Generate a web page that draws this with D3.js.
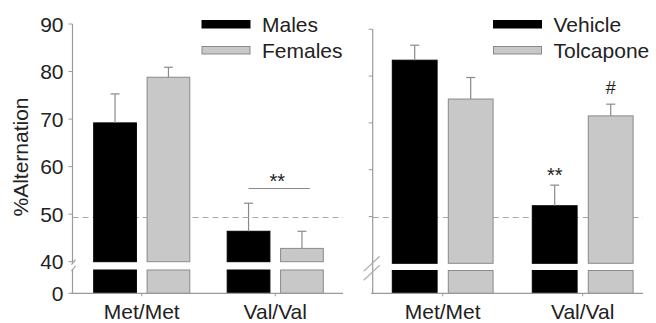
<!DOCTYPE html>
<html lang="en">
<head>
<meta charset="UTF-8">
<title>%Alternation</title>
<script src="https://cdn.jsdelivr.net/npm/d3@7"></script>
<style>
  body { margin: 0; background: #fff; }
  text { font-family: "Liberation Sans", Arial, sans-serif; fill: #222; }
</style>
</head>
<body>
<svg id="chart" width="656" height="323"></svg>
<script>
// genotypes on the x axis
const genotypes = ["Met/Met", "Val/Val"];

// left panel: sex
const sexGroups = ["Males", "Females"];
const sexMeans = [[69.2, 78.8], [46.4, 42.8]];   // [genotype][group]
const sexErrors = [[6.1, 2.1], [5.9, 3.6]];

// right panel: treatment
const drugGroups = ["Vehicle", "Tolcapone"];
const drugMeans = [[83.4, 75.1], [52.3, 71.5]];
const drugErrors = [[3.2, 4.6], [4.4, 2.5]];

const yTicks = [0, 40, 50, 60, 70, 80, 90];
const breakLow = 5, breakHigh = 40;

const svg = d3.select("#chart");
const grey = "#9a9a9a";
const fills = ["#000000", "#c8c8c8"];
const strokes = ["#000000", "#8a8a8a"];

const drawPanel = (opts) => {
    const { axisX, xRange, yRange, means, errors, groups, labels, legendX, tickLabels, xEnd } = opts;
    const g = svg.append("g");

    // y: polylinear with a break between breakLow and breakHigh
    const y = d3.scaleLinear()
        .domain([0, breakLow, breakHigh, 90])
        .range(yRange);
    const x0 = d3.scaleBand().domain(genotypes).range(xRange)
        .paddingInner(0.2).paddingOuter(0.1);
    const x1 = d3.scaleBand().domain(groups).range([0, x0.bandwidth()])
        .paddingInner(0.2).paddingOuter(0.1);

    // dashed chance line
    g.append("line")
        .attr("x1", axisX).attr("x2", xEnd)
        .attr("y1", opts.yChance).attr("y2", opts.yChance)
        .attr("stroke", "#a8a8a8").attr("stroke-width", 1)
        .attr("stroke-dasharray", "6,4");

    // bars
    genotypes.forEach((gt, i) => {
        groups.forEach((grp, j) => {
            const bx = x0(gt) + x1(grp);
            const w = x1.bandwidth();
            const v = means[i][j];
            // upper piece
            g.append("rect")
                .attr("x", bx).attr("width", w)
                .attr("y", y(v)).attr("height", y(breakHigh) - y(v))
                .attr("fill", fills[j]).attr("stroke", strokes[j]).attr("stroke-width", 1);
            // lower piece
            g.append("rect")
                .attr("x", bx).attr("width", w)
                .attr("y", y(breakLow)).attr("height", y(0) - y(breakLow))
                .attr("fill", fills[j]).attr("stroke", strokes[j]).attr("stroke-width", 1);
            // error bar
            const cx = bx + w / 2;
            const top = y(v + errors[i][j]);
            g.append("line")
                .attr("x1", cx).attr("x2", cx).attr("y1", y(v)).attr("y2", top)
                .attr("stroke", "#8a8a8a").attr("stroke-width", 1.2);
            g.append("line")
                .attr("x1", cx - 4.5).attr("x2", cx + 4.5).attr("y1", top).attr("y2", top)
                .attr("stroke", "#8a8a8a").attr("stroke-width", 1.2);
        });
    });

    // x axis
    g.append("line")
        .attr("x1", axisX - 1.5).attr("x2", xEnd)
        .attr("y1", y(0)).attr("y2", y(0))
        .attr("stroke", grey).attr("stroke-width", 1.2);
    genotypes.forEach(gt => {
        const cx = x0(gt) + x0.bandwidth() / 2;
        g.append("line")
            .attr("x1", cx).attr("x2", cx).attr("y1", y(0)).attr("y2", y(0) + 3)
            .attr("stroke", grey);
        g.append("text")
            .attr("x", cx).attr("y", 319)
            .attr("text-anchor", "middle")
            .attr("font-size", 21)
            .text(gt);
    });

    // y axis
    if (opts.splitAxis) {
        g.append("line").attr("x1", axisX).attr("x2", axisX)
            .attr("y1", y(90)).attr("y2", y(breakHigh) + 1)
            .attr("stroke", grey).attr("stroke-width", 1.2);
        g.append("line").attr("x1", axisX).attr("x2", axisX)
            .attr("y1", y(breakLow) - 1).attr("y2", y(0))
            .attr("stroke", grey).attr("stroke-width", 1.2);
        [y(breakHigh) + 1, y(breakLow) - 1].forEach(yy => {
            g.append("line")
                .attr("x1", axisX - 1).attr("x2", axisX + 3)
                .attr("y1", yy + 2).attr("y2", yy - 3)
                .attr("stroke", grey).attr("stroke-width", 1.2);
        });
    } else {
        g.append("line").attr("x1", axisX).attr("x2", axisX)
            .attr("y1", y(90)).attr("y2", y(0))
            .attr("stroke", grey).attr("stroke-width", 1.2);
        [0, 9].forEach(off => {
            g.append("line")
                .attr("x1", axisX - 9).attr("x2", axisX + 7)
                .attr("y1", y(breakHigh) + 8 + off).attr("y2", y(breakHigh) - 7 + off)
                .attr("stroke", "#b0b0b0").attr("stroke-width", 1.2);
        });
    }
    const ticks = tickLabels ? yTicks : yTicks.filter(t => t >= 50);
    ticks.forEach(t => {
        g.append("line")
            .attr("x1", axisX - 4).attr("x2", axisX)
            .attr("y1", y(t)).attr("y2", y(t))
            .attr("stroke", grey);
        if (tickLabels) {
            g.append("text")
                .attr("x", axisX - 9).attr("y", y(t))
                .attr("dy", "0.36em")
                .attr("text-anchor", "end")
                .attr("font-size", 21)
                .text(t);
        }
    });

    // legend
    groups.forEach((grp, j) => {
        const ly = 20.5 + j * 26;
        g.append("rect")
            .attr("x", legendX).attr("y", ly)
            .attr("width", 48).attr("height", 7.5)
            .attr("fill", fills[j]).attr("stroke", strokes[j]);
        g.append("text")
            .attr("x", legendX + 60).attr("y", ly + 11.5)
            .attr("font-size", 21)
            .text(labels[j]);
    });

    return { g, x0, x1, y };
};

// left panel
const left = drawPanel({
    axisX: 72.5, xRange: [75, 342], yRange: [293.3, 270, 261.7, 24],
    means: sexMeans, errors: sexErrors, groups: sexGroups, labels: sexGroups,
    legendX: 202, tickLabels: true, xEnd: 343, splitAxis: true, yChance: 217.5
});

// right panel
const right = drawPanel({
    axisX: 372.7, xRange: [372.7, 652.7], yRange: [293.3, 270.5, 263.3, 29.3],
    means: drugMeans, errors: drugErrors, groups: drugGroups, labels: drugGroups,
    legendX: 493.5, tickLabels: false, xEnd: 643, splitAxis: false, yChance: 217.5
});

// y title
svg.append("text")
    .attr("transform", "translate(28,157) rotate(-90)")
    .attr("text-anchor", "middle")
    .attr("font-size", 21)
    .text("%Alternation");

// significance: Val/Val males vs females
{
    const { g, x0, x1, y } = left;
    const xa = x0("Val/Val") + x1("Males") + x1.bandwidth() / 2;
    const xb = x0("Val/Val") + x1("Females") + x1.bandwidth() / 2;
    g.append("line")
        .attr("x1", xa).attr("x2", xb + 8).attr("y1", 188.5).attr("y2", 188.5)
        .attr("stroke", "#8a8a8a").attr("stroke-width", 1);
    g.append("text")
        .attr("x", (xa + xb) / 2 + 2).attr("y", 188)
        .attr("text-anchor", "middle").attr("font-size", 20)
        .text("**");
}
{
    const { g, x0, x1, y } = right;
    const cv = x0("Val/Val") + x1("Vehicle") + x1.bandwidth() / 2;
    const ct = x0("Val/Val") + x1("Tolcapone") + x1.bandwidth() / 2;
    g.append("text")
        .attr("x", cv).attr("y", y(drugMeans[1][0] + drugErrors[1][0]) - 3)
        .attr("text-anchor", "middle").attr("font-size", 20)
        .text("**");
    g.append("text")
        .attr("x", ct).attr("y", y(drugMeans[1][1] + drugErrors[1][1]) - 10)
        .attr("text-anchor", "middle").attr("font-size", 18)
        .text("#");
}
</script>
</body>
</html>
